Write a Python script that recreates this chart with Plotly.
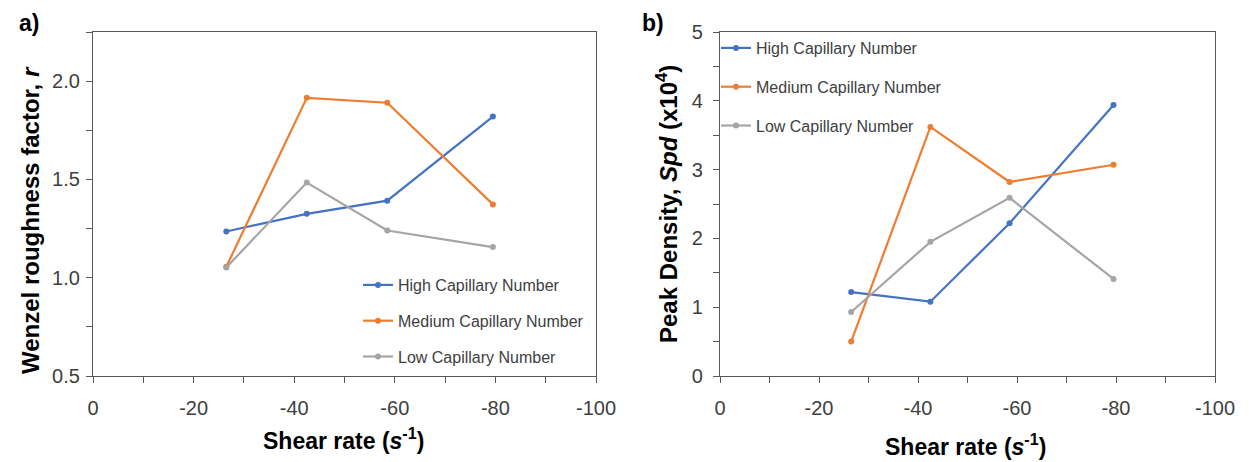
import plotly.graph_objects as go

# ---- data ----
shear_rate = [-26.5, -42.5, -58.5, -79.5]
series_names = ["High Capillary Number", "Medium Capillary Number", "Low Capillary Number"]
colors = ["#4472C4", "#ED7D31", "#A5A5A5"]

wenzel_high = [1.235, 1.325, 1.392, 1.82]
wenzel_medium = [1.056, 1.915, 1.89, 1.373]
wenzel_low = [1.052, 1.484, 1.24, 1.156]

spd_high = [1.22, 1.08, 2.22, 3.94]
spd_medium = [0.50, 3.62, 2.82, 3.07]
spd_low = [0.93, 1.95, 2.59, 1.41]

x_tick_vals = [0, -20, -40, -60, -80, -100]
x_tick_text = ["0", "-20", "-40", "-60", "-80", "-100"]
y1_tick_vals = [0.5, 1.0, 1.5, 2.0]
y1_tick_text = ["0.5", "1.0", "1.5", "2.0"]
y2_tick_vals = [0, 1, 2, 3, 4, 5]

W, H = 1249, 462
def px(x):
    return x / W
def py(y):
    return 1 - y / H

fig = go.Figure()

left = [wenzel_high, wenzel_medium, wenzel_low]
right = [spd_high, spd_medium, spd_low]
for i, name in enumerate(series_names):
    fig.add_trace(go.Scatter(x=shear_rate, y=left[i], name=name, mode="lines+markers",
                             line=dict(color=colors[i], width=2.2),
                             marker=dict(color=colors[i], size=6),
                             xaxis="x", yaxis="y", legend="legend", legendgroup="a" + str(i)))
for i, name in enumerate(series_names):
    fig.add_trace(go.Scatter(x=shear_rate, y=right[i], name=name, mode="lines+markers",
                             line=dict(color=colors[i], width=2.2),
                             marker=dict(color=colors[i], size=6),
                             xaxis="x2", yaxis="y2", legend="legend2", legendgroup="b" + str(i)))

tickfont = dict(family="Liberation Sans, Arial", size=20, color="#404040")
axis_common = dict(showline=True, mirror=True, linecolor="#595959", linewidth=1.2,
                   showgrid=False, zeroline=False, ticks="outside", ticklen=6,
                   tickcolor="#595959", tickfont=tickfont, automargin=False)

xaxis_cfg = dict(axis_common, range=[0, -100], tickmode="array", tickvals=x_tick_vals,
                 ticktext=x_tick_text, ticklabelstandoff=8,
                 minor=dict(tickmode="array", tickvals=[-10, -30, -50, -70, -90],
                            ticks="outside", ticklen=6, tickcolor="#595959"))

fig.update_layout(
    width=W, height=H, margin=dict(l=0, r=0, t=0, b=0, pad=0, autoexpand=False),
    paper_bgcolor="white", plot_bgcolor="white",
    xaxis=dict(xaxis_cfg, domain=[px(93), px(596)], anchor="y"),
    yaxis=dict(axis_common, range=[0.5, 2.25], tickmode="array", tickvals=y1_tick_vals,
               ticktext=y1_tick_text, domain=[py(376), py(32)], anchor="x", ticklabelstandoff=2,
               minor=dict(tickmode="array", tickvals=[0.75, 1.25, 1.75, 2.25], ticks="outside",
                          ticklen=6, tickcolor="#595959")),
    xaxis2=dict(xaxis_cfg, domain=[px(720), px(1215)], anchor="y2"),
    yaxis2=dict(axis_common, range=[0, 5], tickmode="array", tickvals=y2_tick_vals,
                domain=[py(376), py(32)], anchor="x2", ticklabelstandoff=6,
                minor=dict(tickmode="array", tickvals=[0.5, 1.5, 2.5, 3.5, 4.5], ticks="outside",
                           ticklen=6, tickcolor="#595959")),
    legend=dict(x=px(358), y=py(268), xanchor="left", yanchor="top", bgcolor="rgba(0,0,0,0)",
                font=dict(family="Liberation Sans, Arial", size=16, color="#404040"),
                tracegroupgap=12, itemwidth=30),
    legend2=dict(x=px(716), y=py(31), xanchor="left", yanchor="top", bgcolor="rgba(0,0,0,0)",
                 font=dict(family="Liberation Sans, Arial", size=16, color="#404040"),
                 tracegroupgap=15, itemwidth=30),
    showlegend=True,
)

title_font = dict(family="Liberation Sans, Arial", size=24, color="black")
annotations = [
    dict(text="<b>a)</b>", x=px(17), y=py(23), xanchor="left", yanchor="middle", font=dict(title_font, size=23)),
    dict(text="<b>b)</b>", x=px(640), y=py(23), xanchor="left", yanchor="middle", font=dict(title_font, size=23)),
    dict(text="<b>Wenzel roughness factor, <i>r</i></b>", x=px(30), y=py(220), textangle=-90,
         xanchor="center", yanchor="middle", font=title_font),
    dict(text="<b>Peak Density, <i>Spd</i> (x10<sup>4</sup>)</b>", x=px(667), y=py(204), textangle=-90,
         xanchor="center", yanchor="middle", font=title_font),
    dict(text="<b>Shear rate (<i>s</i><sup>-1</sup>)</b>", x=px(343), y=py(439),
         xanchor="center", yanchor="middle", font=dict(title_font, size=23)),
    dict(text="<b>Shear rate (<i>s</i><sup>-1</sup>)</b>", x=px(965), y=py(445),
         xanchor="center", yanchor="middle", font=dict(title_font, size=23)),
]
for a in annotations:
    a.update(xref="paper", yref="paper", showarrow=False)
fig.update_layout(annotations=annotations)

fig.write_html("out.html", config={"displayModeBar": False},
               post_script="document.body.style.margin='0px';document.body.style.overflow='hidden';")
